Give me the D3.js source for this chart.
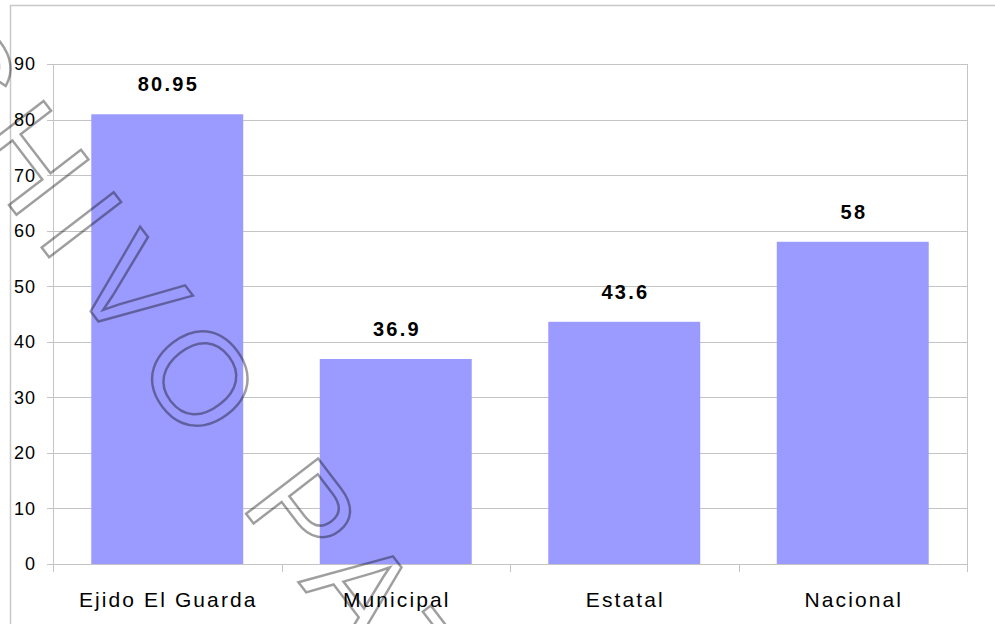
<!DOCTYPE html>
<html><head><meta charset="utf-8">
<script src="https://cdn.jsdelivr.net/npm/d3@7"></script>
<style>body{margin:0;background:#fff}svg{display:block}</style>
</head><body>
<svg id="c" width="995" height="624"></svg>
<script>
const categories = ["Ejido El Guarda", "Municipal", "Estatal", "Nacional"];
const values = [80.95, 36.9, 43.6, 58];
const valueLabels = ["80.95", "36.9", "43.6", "58"];
const yTicks = [0, 10, 20, 30, 40, 50, 60, 70, 80, 90];

const svg = d3.select("#c");
const W = 995, H = 624;
const m = {left: 53, top: 64, right: 28, bottom: 60};
const x0 = m.left, x1 = W - m.right, y0 = m.top, y1 = H - m.bottom;

// outer border
svg.append("rect").attr("x", 10.5).attr("y", 5.5).attr("width", 1100).attr("height", 800)
  .attr("fill", "none").attr("stroke", "#c8c8c8").attr("stroke-width", 1.5);

const x = d3.scaleBand().domain(categories).range([x0, x1]).paddingInner(0.335).paddingOuter(0.1675);
const y = d3.scaleLinear().domain([0, 90]).range([y1, y0]);

const grid = svg.append("g");
grid.selectAll("line").data(yTicks).join("line")
  .attr("x1", x0 - 6).attr("x2", x1)
  .attr("y1", d => Math.round(y(d)) + 0.5).attr("y2", d => Math.round(y(d)) + 0.5)
  .attr("stroke", "#c4c4c4").attr("stroke-width", 1);

// left axis line
svg.append("line").attr("x1", x0 + 0.5).attr("x2", x0 + 0.5).attr("y1", y0).attr("y2", y1 + 8)
  .attr("stroke", "#c4c4c4");
// right border line
svg.append("line").attr("x1", x1 + 0.5).attr("x2", x1 + 0.5).attr("y1", y0).attr("y2", y1 + 8)
  .attr("stroke", "#c4c4c4");
// category boundary ticks
const bounds = categories.map(c => x(c) - x.step() * x.paddingInner() / 2);
svg.selectAll(".bt").data(bounds.slice(1)).join("line")
  .attr("x1", d => Math.round(d) + 0.5).attr("x2", d => Math.round(d) + 0.5)
  .attr("y1", y1).attr("y2", y1 + 8).attr("stroke", "#c4c4c4");

// y tick labels
svg.selectAll(".yl").data(yTicks).join("text")
  .attr("x", 36).attr("y", d => y(d)).attr("dy", "0.36em")
  .attr("text-anchor", "end")
  .attr("font-family", "Liberation Sans, Arial, sans-serif").attr("font-size", 18)
  .attr("letter-spacing", 1).attr("fill", "#000")
  .text(d => d);

// bars
svg.selectAll(".bar").data(values).join("rect")
  .attr("x", (d, i) => x(categories[i])).attr("width", x.bandwidth())
  .attr("y", d => y(d)).attr("height", d => y(0) - y(d))
  .attr("fill", "#9b9bff");

// value labels
svg.selectAll(".vl").data(values).join("text")
  .attr("x", (d, i) => x(categories[i]) + x.bandwidth() / 2 + 1.2)
  .attr("y", d => y(d) - 23)
  .attr("text-anchor", "middle")
  .attr("font-family", "Liberation Sans, Arial, sans-serif").attr("font-size", 20)
  .attr("font-weight", "bold").attr("letter-spacing", 2.3).attr("fill", "#000")
  .text((d, i) => valueLabels[i]);

// category labels
svg.selectAll(".cl").data(categories).join("text")
  .attr("x", d => x(d) + x.bandwidth() / 2 + 1)
  .attr("y", y1 + 43)
  .attr("text-anchor", "middle")
  .attr("font-family", "Liberation Sans, Arial, sans-serif").attr("font-size", 21)
  .attr("letter-spacing", 2.1).attr("fill", "#000")
  .text(d => d);

// watermark (outlined text)
svg.append("text")
  .attr("transform", "translate(-238,-117) rotate(52.5)")
  .attr("font-family", "Liberation Sans, Arial, sans-serif").attr("font-size", 132)
  .attr("letter-spacing", 18.3)
  .attr("fill", "none").attr("stroke", "#000").attr("stroke-opacity", 0.38).attr("stroke-width", 2.5)
  .text("ARCHIVO PATRIMONIAL");
</script>
</body></html>
